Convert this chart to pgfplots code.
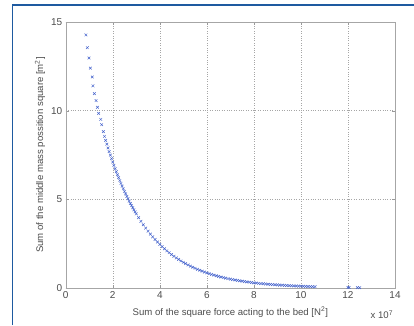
\documentclass[border=0pt]{standalone}
\usepackage{fontspec}
\setmainfont{Liberation Sans}
\usepackage{pgfplots}
\pgfplotsset{compat=1.18}
\definecolor{frameblue}{RGB}{30,90,160}
\definecolor{markblue}{RGB}{70,100,205}
\begin{document}
\begin{tikzpicture}[x=1pt,y=1pt]
\useasboundingbox (0,0) rectangle (414,325);
\draw[color=frameblue, line width=1.6pt] (12.3,0) -- (12.3,320) -- (414,320);
\begin{axis}[
  at={(65.7pt,37pt)}, anchor=south west,
  scale only axis, width=329.3pt, height=266pt,
  xmin=0, xmax=14, ymin=0, ymax=15,
  xtick={0,2,...,14}, ytick={0,5,10,15},
  grid=major, major grid style={dotted, black!35},
  axis line style={black!35}, tick style={black!40},
  tick align=inside, major tick length=3pt,
  ticklabel style={font=\fontsize{10}{12}\selectfont, text=black!70},
  /pgf/number format/assume math mode=true,
  scaled ticks=false,
  xlabel={Sum of the square force acting to the bed [N\textsuperscript{2}]},
  ylabel={Sum of the middle mass possition square [m\textsuperscript{2}]},
  label style={font=\fontsize{9.6}{11}\selectfont, text=black!70},
  xlabel style={at={(axis description cs:0.5,-0.09)}, anchor=center},
  ylabel style={at={(axis description cs:-0.078,0.5)}, anchor=center},
  clip=false,
]
\addplot[only marks, mark=x, mark size=1.9pt, color=markblue, mark options={line width=0.5pt}] coordinates {
(0.86,14.27)(0.92,13.55)(0.99,12.97)(1.05,12.4)(1.13,11.9)(1.16,11.4)(1.22,10.96)(1.29,10.57)(1.35,10.19)(1.40,9.85)(1.49,9.51)(1.53,9.21)
(1.6,8.82)(1.65,8.55)(1.7,8.327)(1.75,8.109)(1.8,7.897)(1.85,7.690)(1.9,7.489)(1.95,7.293)
(2.0,7.103)(2.05,6.917)(2.1,6.736)(2.15,6.560)(2.2,6.388)(2.25,6.221)(2.3,6.058)(2.35,5.899)(2.4,5.746)(2.45,5.595)
(2.5,5.449)(2.55,5.306)(2.6,5.168)(2.65,5.033)(2.7,4.901)(2.75,4.773)(2.8,4.648)(2.85,4.526)(2.9,4.408)(2.95,4.293)
(3.0,4.181)(3.1,3.965)(3.2,3.760)(3.3,3.566)(3.4,3.382)(3.5,3.207)(3.6,3.042)(3.7,2.885)(3.8,2.736)(3.9,2.595)
(4.0,2.461)(4.1,2.334)(4.2,2.213)(4.3,2.099)(4.4,1.991)(4.5,1.888)(4.6,1.790)(4.7,1.698)(4.8,1.610)(4.9,1.527)
(5.0,1.448)(5.1,1.374)(5.2,1.303)(5.3,1.235)(5.4,1.172)(5.5,1.111)(5.6,1.054)(5.7,0.999)(5.8,0.948)(5.9,0.899)
(6.0,0.853)(6.1,0.809)(6.2,0.767)(6.3,0.727)(6.4,0.690)(6.5,0.654)(6.6,0.620)(6.7,0.588)(6.8,0.558)(6.9,0.529)
(7.0,0.502)(7.1,0.476)(7.2,0.451)(7.3,0.428)(7.4,0.406)(7.5,0.385)(7.6,0.365)(7.7,0.346)(7.8,0.328)(7.9,0.311)
(8.0,0.295)(8.1,0.280)(8.2,0.266)(8.3,0.252)(8.4,0.239)(8.5,0.227)(8.6,0.215)(8.7,0.204)(8.8,0.193)(8.9,0.183)
(9.0,0.174)(9.1,0.165)(9.2,0.156)(9.3,0.148)(9.4,0.141)(9.5,0.133)(9.6,0.126)(9.7,0.120)(9.8,0.114)(9.9,0.108)
(10.0,0.102)(10.1,0.097)(10.2,0.092)(10.3,0.087)(10.4,0.083)(10.5,0.079)(10.6,0.075)
(12.0,0.03)(12.05,0.03)(12.4,0.02)(12.5,0.02)
};
\node[font=\fontsize{9.6}{11}\selectfont, text=black!70, anchor=center] at (rel axis cs:0.96,-0.10) {x 10\textsuperscript{7}};
\end{axis}
\end{tikzpicture}
\end{document}
